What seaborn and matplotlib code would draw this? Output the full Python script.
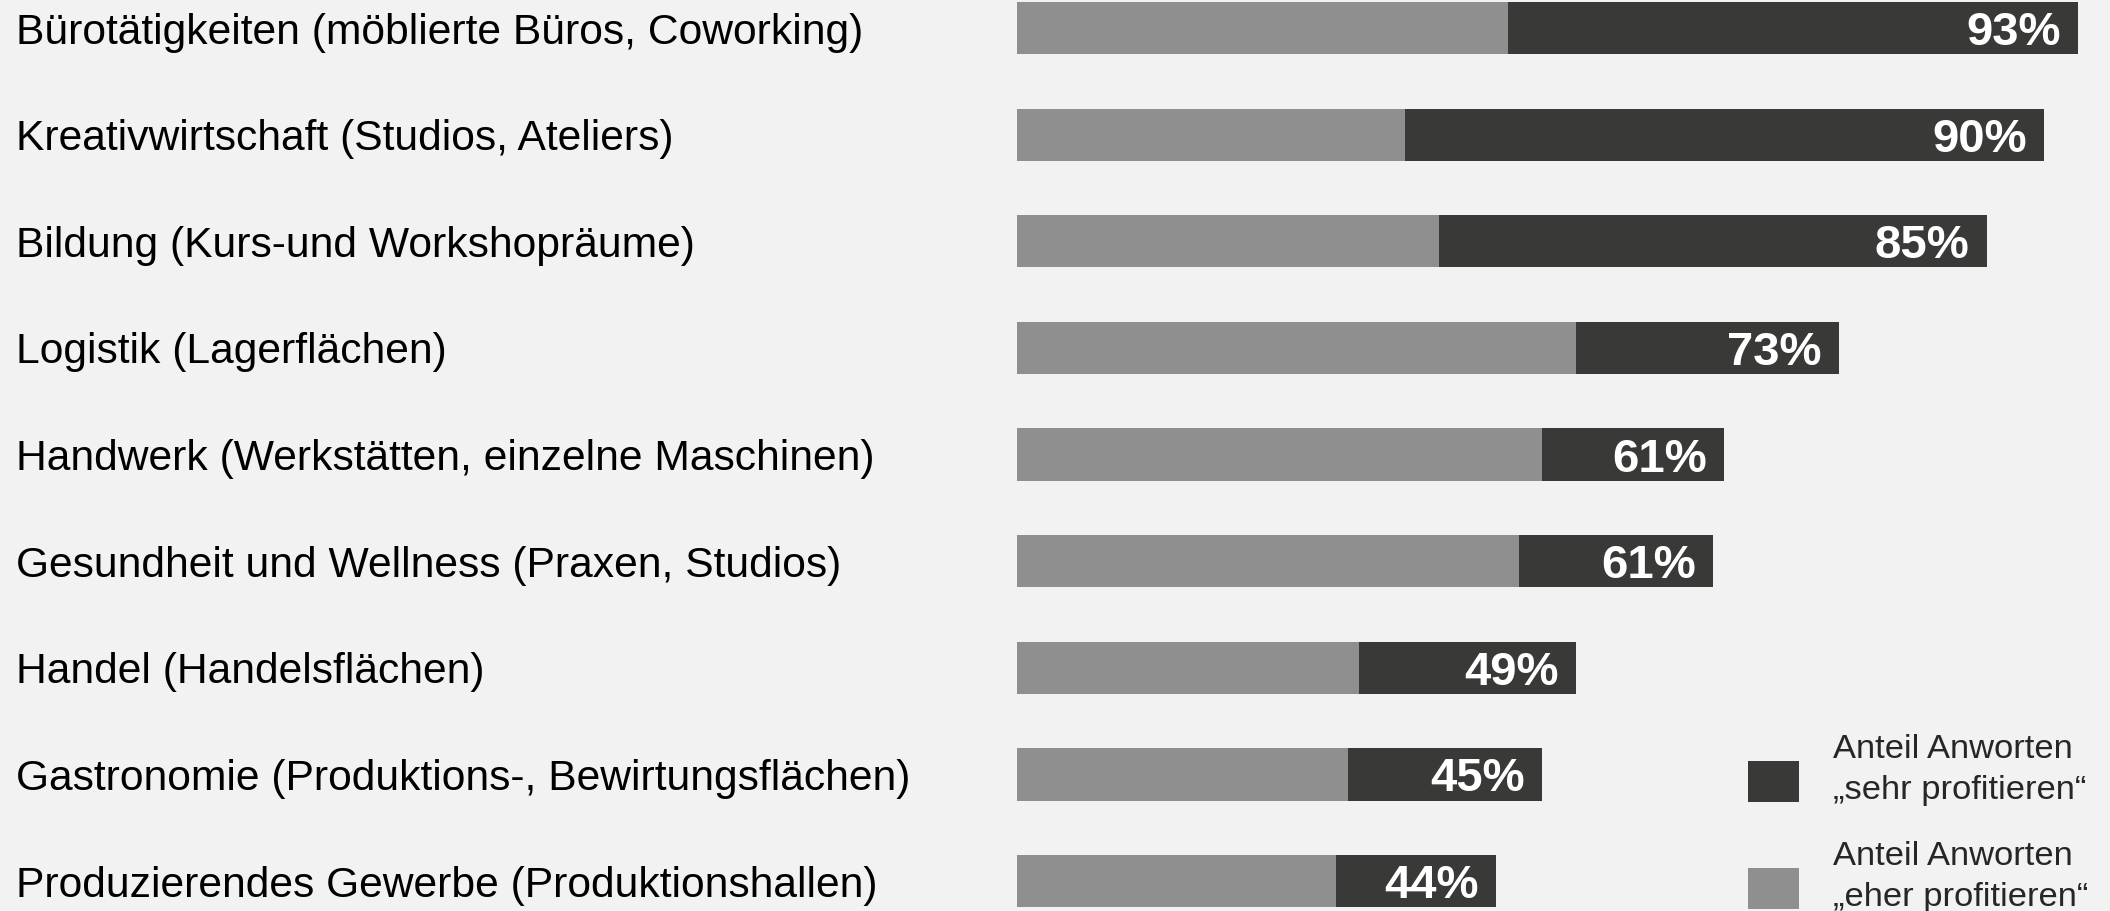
import pandas as pd
import matplotlib.pyplot as plt
import seaborn as sns

# categories, top to bottom
categories = [
    'Bürotätigkeiten (möblierte Büros, Coworking)',
    'Kreativwirtschaft (Studios, Ateliers)',
    'Bildung (Kurs-und Workshopräume)',
    'Logistik (Lagerflächen)',
    'Handwerk (Werkstätten, einzelne Maschinen)',
    'Gesundheit und Wellness (Praxen, Studios)',
    'Handel (Handelsflächen)',
    'Gastronomie (Produktions-, Bewirtungsflächen)',
    'Produzierendes Gewerbe (Produktionshallen)',
]
# share "eher profitieren" (light) and "sehr profitieren" (dark), in %
eher = [43, 34, 37, 49, 46, 44, 30, 29, 28]
sehr = [50, 56, 48, 23, 16, 17, 19, 17, 14]
# printed totals
labels = ['93%', '90%', '85%', '73%', '61%', '61%', '49%', '45%', '44%']

legend_labels = ['Anteil Anworten\n\u201esehr profitieren\u201c',
                 'Anteil Anworten\n\u201eeher profitieren\u201c']

bg = '#f2f2f2'
dark = '#393937'
light = '#8f8f8f'

df = pd.DataFrame({'cat': categories, 'eher': eher, 'sehr': sehr})
df['total'] = df['eher'] + df['sehr']

sns.set_style('white', {'axes.facecolor': bg, 'figure.facecolor': bg})
plt.rcParams['font.family'] = ['Liberation Sans', 'DejaVu Sans']

fig = plt.figure(figsize=(21.1, 9.11), dpi=100)
ax = fig.add_axes([1017 / 2110, 0, 1 - 1017 / 2110, 1])

# stacked bars: total in dark, light part on top of it
sns.barplot(data=df, y='cat', x='total', color=dark, saturation=1, width=0.49,
            linewidth=0, orient='h', ax=ax)
sns.barplot(data=df, y='cat', x='eher', color=light, saturation=1, width=0.49,
            linewidth=0, orient='h', ax=ax)

ax.set_xlim(0, 1093 / 11.41)
ax.set_ylim(8.281, -0.263)
ax.set_xlabel('')
ax.set_ylabel('')
ax.set_xticks([])
sns.despine(ax=ax, left=True, bottom=True)

# category labels left-aligned at the left edge of the figure
ax.tick_params(axis='y', length=0, pad=721, labelsize=30.7, labelcolor='black')
for lab in ax.get_yticklabels():
    lab.set_ha('left')

# percent labels inside bar ends
for i, (tot, lab) in enumerate(zip(df['total'], labels)):
    ax.annotate(lab, xy=(tot, i), xytext=(-12.5, 0), textcoords='offset points',
                ha='right', va='center_baseline', color='white',
                fontsize=34, fontweight='bold')

handles = [ax.containers[0][0], ax.containers[1][0]]
leg = fig.legend(handles, legend_labels, loc='upper left',
                 bbox_to_anchor=(1748 / 2110, 1 - 734 / 911), frameon=False,
                 fontsize=24.8, borderpad=0, borderaxespad=0,
                 handlelength=1.47, handleheight=1.45, handletextpad=1.0,
                 labelspacing=1.0)
for t in leg.get_texts():
    t.set_linespacing(1.42)
# squares sit a bit lower, next to the second text line
for h in leg.legend_handles:
    h.set_y(h.get_y() - 8)

plt.savefig('out.png', dpi=100, facecolor=bg)
